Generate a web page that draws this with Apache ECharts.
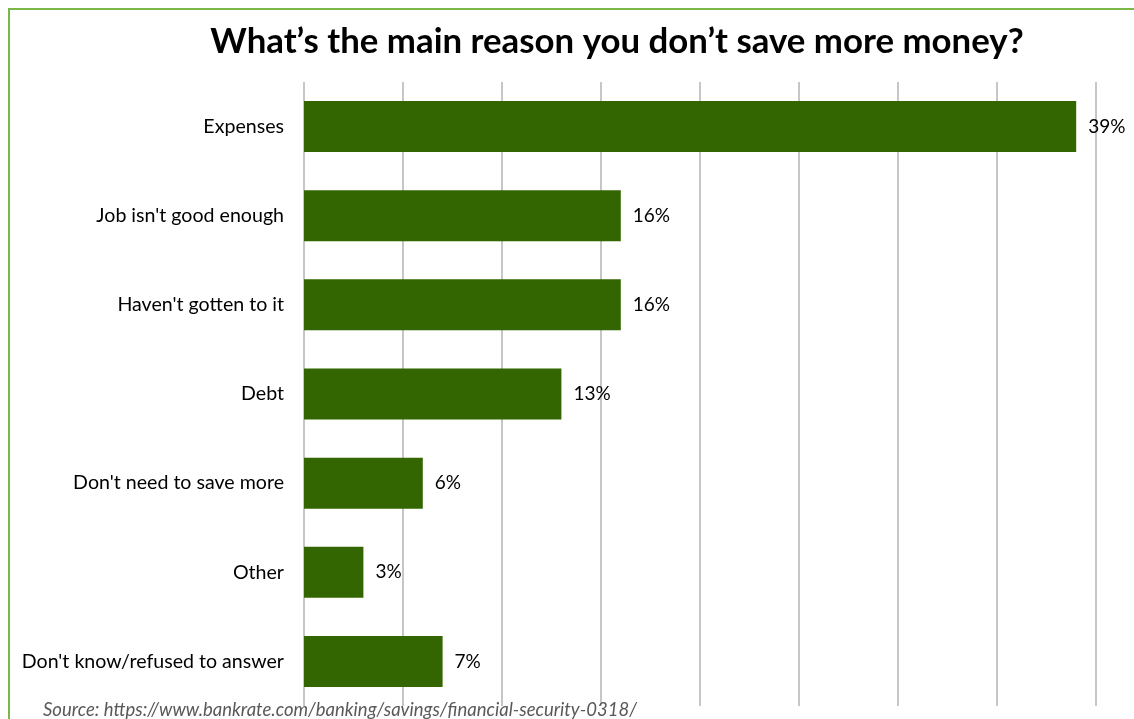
<!DOCTYPE html>
<html>
<head>
<meta charset="utf-8">
<script src="https://cdn.jsdelivr.net/npm/echarts@6/dist/echarts.min.js"></script>
<style>
  html, body { margin: 0; padding: 0; background: #fff; overflow: hidden; }
  #frame { position: absolute; left: 8px; top: 8px; width: 1200px; height: 800px; border-top: 2px solid #7ab648; border-left: 2px solid #7ab648; }
  #chart { position: absolute; left: 0; top: 0; width: 1134px; height: 719px; }
</style>
</head>
<body>
<div id="frame"></div>
<div id="chart"></div>
<script>
  const categories = [
    "Expenses",
    "Job isn't good enough",
    "Haven't gotten to it",
    "Debt",
    "Don't need to save more",
    "Other",
    "Don't know/refused to answer"
  ];
  const values = [39, 16, 16, 13, 6, 3, 7];
  const titleText = "What\u2019s the main reason you don\u2019t save more money?";
  const sourceText = "Source: https://www.bankrate.com/banking/savings/financial-security-0318/";

  const font = "Lato, 'Open Sans', sans-serif";
  const chart = echarts.init(document.getElementById("chart"));
  chart.setOption({
    animation: false,
    title: [
      {
        text: titleText,
        left: 612,
        textAlign: "center",
        top: 19,
        textStyle: { fontFamily: font, fontWeight: "bold", fontSize: 34.8, color: "#000" }
      },
      {
        text: sourceText,
        left: 38,
        top: 696,
        textStyle: { fontFamily: font, fontStyle: "italic", fontWeight: "normal", fontSize: 18.5, color: "#595959" }
      }
    ],
    grid: { left: 304, right: 38, top: 82, height: 624, containLabel: false },
    xAxis: {
      type: "value",
      min: 0,
      max: 40,
      interval: 5,
      axisLabel: { show: false },
      axisLine: { show: false },
      axisTick: { show: false },
      splitLine: { lineStyle: { color: "#c6c6c6", width: 2 } }
    },
    yAxis: {
      type: "category",
      data: categories,
      inverse: true,
      axisLine: { show: false },
      axisTick: { show: false },
      axisLabel: { margin: 20, fontFamily: font, fontSize: 19.6, color: "#000" }
    },
    series: [
      {
        type: "bar",
        data: values,
        barWidth: 51,
        itemStyle: { color: "#336600" },
        label: {
          show: true,
          position: "right",
          distance: 12,
          formatter: "{c}%",
          fontFamily: font,
          fontSize: 19,
          color: "#000"
        }
      }
    ]
  });
</script>
</body>
</html>
